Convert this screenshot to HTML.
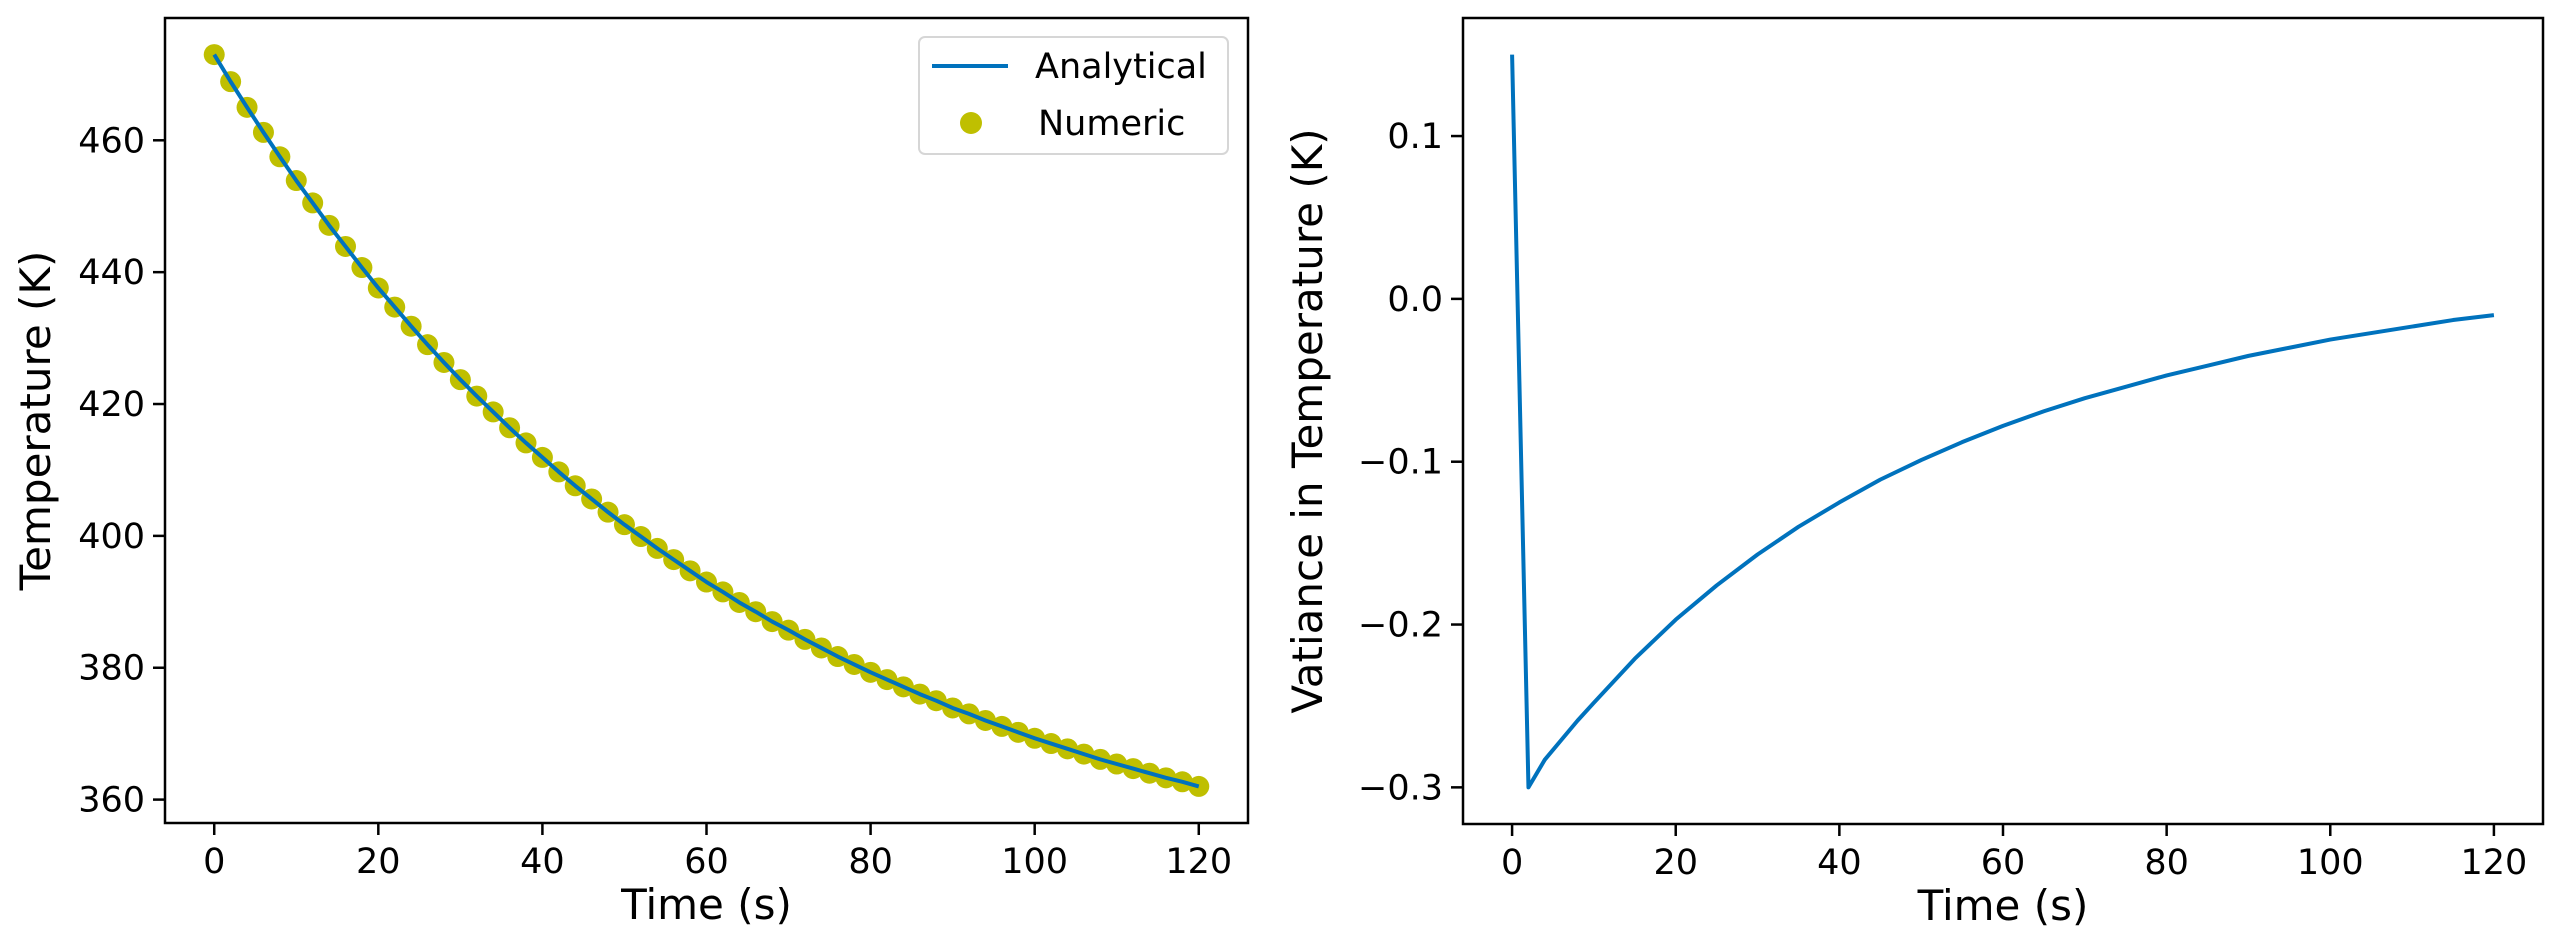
<!DOCTYPE html>
<html><head><meta charset="utf-8"><style>
html,body{margin:0;padding:0;background:#fff;}
svg{display:block;font-family:"DejaVu Sans","Liberation Sans",sans-serif;}
</style></head><body>
<svg id="fig" width="2561" height="947" viewBox="0 0 2561 947" xmlns="http://www.w3.org/2000/svg"></svg>
<script>
const leftTimes = [0,2,4,6,8,10,12,14,16,18,20,22,24,26,28,30,32,34,36,38,40,42,44,46,48,50,52,54,56,58,60,62,64,66,68,70,72,74,76,78,80,82,84,86,88,90,92,94,96,98,100,102,104,106,108,110,112,114,116,118,120];
const leftTemps = [473.0,468.9,465.0,461.2,457.5,453.9,450.5,447.1,443.9,440.7,437.6,434.7,431.8,429.0,426.3,423.7,421.2,418.8,416.4,414.1,411.9,409.7,407.6,405.6,403.6,401.7,399.9,398.1,396.4,394.7,393.0,391.5,389.9,388.5,387.0,385.7,384.3,383.0,381.7,380.5,379.3,378.2,377.1,376.0,375.0,373.9,373.0,372.0,371.1,370.2,369.3,368.5,367.7,366.9,366.1,365.4,364.7,364.0,363.3,362.7,362.0];
const rightTimes = [0,2,4,6,8,10,15,20,25,30,35,40,45,50,55,60,65,70,75,80,85,90,95,100,105,110,115,120];
const rightVar = [0.15,-0.30,-0.283,-0.271,-0.259,-0.248,-0.221,-0.197,-0.176,-0.157,-0.140,-0.125,-0.111,-0.099,-0.088,-0.078,-0.069,-0.061,-0.054,-0.047,-0.041,-0.035,-0.030,-0.025,-0.021,-0.017,-0.013,-0.010];
const xTicks = [0,20,40,60,80,100,120];
const leftYTicks = [360,380,400,420,440,460];
const rightYTicks = [0.1,0.0,-0.1,-0.2,-0.3];
const rightYTickLabels = ["0.1","0.0","\u22120.1","\u22120.2","\u22120.3"];

const NS="http://www.w3.org/2000/svg";
const svg=document.getElementById('fig');
function el(tag,attrs,parent){const e=document.createElementNS(NS,tag);for(const k in attrs)e.setAttribute(k,attrs[k]);(parent||svg).appendChild(e);return e;}
function scale(d0,d1,r0,r1){return v=>r0+(v-d0)/(d1-d0)*(r1-r0);}

function axes(box,xs,ys,yTicks,yLabels,xLabel,yLabel,yLabelX,name){
  const g=el('g',{});
  
  
  xTicks.forEach(t=>{
    const x=xs(t);
    const tk=el('line',{x1:x,x2:x,y1:box.b,y2:box.b+12,stroke:'#000','stroke-width':2.5},g);
    
    
    const tx=el('text',{x:x,y:box.b+50,'font-size':35,'text-anchor':'middle',fill:'#000'},g);
    tx.textContent=String(t);
    
    
  });
  yTicks.forEach((t,i)=>{
    const y=ys(t);
    const tk=el('line',{x1:box.l-12,x2:box.l,y1:y,y2:y,stroke:'#000','stroke-width':2.5},g);
    
    
    const tx=el('text',{x:box.l-20,y:y+12,'font-size':35,'text-anchor':'end',fill:'#000'},g);
    tx.textContent=yLabels[i];
    
    
  });
  const xl=el('text',{x:(box.l+box.r)/2,y:box.b+96,'font-size':42,'text-anchor':'middle',fill:'#000'},g);
  xl.textContent=xLabel;
  
  
  const cy=(box.t+box.b)/2;
  const yl=el('text',{x:yLabelX,y:cy,'font-size':42,'text-anchor':'middle',fill:'#000',transform:`rotate(-90 ${yLabelX} ${cy})`},g);
  yl.textContent=yLabel;
  
  
  return g;
}
function frame(box){
  const r=el('rect',{x:box.l,y:box.t,width:box.r-box.l,height:box.b-box.t,fill:'none',stroke:'#000','stroke-width':2.5});
  
  
}

// Left chart
const LB={l:165,r:1248,t:18,b:823};
const lx=scale(-6,126,LB.l,LB.r);
const ly=scale(356.45,478.55,LB.b,LB.t);
axes(LB,lx,ly,leftYTicks,leftYTicks.map(String),'Time (s)','Temperature (K)',50,'left-axes');
leftTimes.forEach((t,i)=>{
  const c=el('circle',{cx:lx(t),cy:ly(leftTemps[i]),r:10.5,fill:'#bfbf00'});
  
  
});
const lp=el('polyline',{points:leftTimes.map((t,i)=>lx(t)+','+ly(leftTemps[i])).join(' '),fill:'none',stroke:'#0072bd','stroke-width':4,'stroke-linejoin':'round'});


frame(LB);

// Legend
const lg=el('g',{});


el('rect',{x:919,y:37,width:309,height:117,rx:6,fill:'#fff',stroke:'#d6d6d6','stroke-width':2},lg);
const ll=el('line',{x1:932,x2:1008,y1:66,y2:66,stroke:'#0072bd','stroke-width':4},lg);


const lt1=el('text',{x:1035,y:78,'font-size':35,fill:'#000'},lg);
lt1.textContent='Analytical';


const lc=el('circle',{cx:971,cy:123,r:11,fill:'#bfbf00'},lg);


const lt2=el('text',{x:1038,y:135,'font-size':35,fill:'#000'},lg);
lt2.textContent='Numeric';



// Right chart
const RB={l:1463,r:2543,t:18,b:824};
const rx=scale(-6,126,RB.l,RB.r);
const ry=scale(-0.3225,0.1725,RB.b,RB.t);
axes(RB,rx,ry,rightYTicks,rightYTickLabels,'Time (s)','Vatiance in Temperature (K)',1322,'right-axes');
const rp=el('polyline',{points:rightTimes.map((t,i)=>rx(t)+','+ry(rightVar[i])).join(' '),fill:'none',stroke:'#0072bd','stroke-width':4,'stroke-linejoin':'round'});


frame(RB);
</script>
</body></html>
